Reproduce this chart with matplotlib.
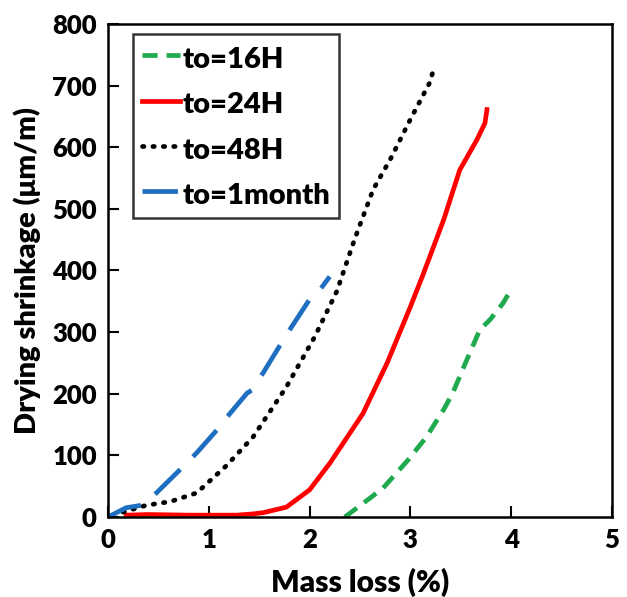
import matplotlib
matplotlib.use("Agg")
import matplotlib.pyplot as plt

# to=16H
x16 = [2.35, 2.53, 2.73, 2.98, 3.16, 3.33, 3.42, 3.56, 3.69, 3.79, 3.92, 4.01]
y16 = [0, 22, 47, 93, 130, 174, 201, 255, 304, 320, 347, 372]
# to=24H
x24 = [0.18, 0.4, 0.8, 1.28, 1.44, 1.54, 1.77, 2.0, 2.20, 2.53, 2.77, 3.0, 3.13, 3.33, 3.49, 3.66, 3.74, 3.76]
y24 = [3, 4, 3, 3, 5, 7, 16, 44, 87, 168, 250, 341, 395, 482, 563, 612, 639, 661]
# to=48H
x48 = [0.15, 0.38, 0.62, 0.88, 1.18, 1.44, 1.77, 2.05, 2.27, 2.45, 2.63, 2.80, 3.0, 3.19, 3.24]
y48 = [8, 19, 25, 39, 84, 130, 211, 292, 366, 452, 531, 580, 645, 704, 731]
# to=1month
x1m = [0.0, 0.18, 0.33, 0.48, 0.71, 0.88, 1.08, 1.18, 1.38, 1.43, 1.54, 1.72, 1.82, 2.04, 2.10, 2.20]
y1m = [0, 15, 19, 39, 76, 104, 141, 162, 201, 206, 234, 282, 308, 363, 368, 390]

plt.rcParams['font.family'] = ['Lato', 'DejaVu Sans']
plt.rcParams['font.weight'] = 'bold'

fig = plt.figure(figsize=(6.27, 5.97), dpi=100)
ax = fig.add_axes([0.1722, 0.134, 0.8038, 0.826])

ax.plot(x16, y16, color='#1faa4f', lw=3.4, linestyle=(0, (3.2, 1.9)), label='to=16H')
ax.plot(x24, y24, color='#ff0000', lw=3.4, linestyle='-', label='to=24H')
ax.plot(x48, y48, color='black', lw=3.4, linestyle=(0, (0.3, 1.9)), dash_capstyle='round', label='to=48H')
ax.plot(x1m, y1m, color='#1f6fc0', lw=3.4, linestyle=(0, (7.5, 3.8)), label='to=1month')

ax.set_xlim(0, 5)
ax.set_ylim(0, 800)
ax.set_xticks([0, 1, 2, 3, 4, 5])
ax.set_yticks(range(0, 801, 100))
ax.tick_params(direction='in', length=8, width=1.5, labelsize=18.5, pad=8)
for lab in ax.get_xticklabels() + ax.get_yticklabels():
    lab.set_fontweight('heavy')
for s in ax.spines.values():
    s.set_linewidth(1.8)

ax.set_xlabel('Mass loss (%)', fontsize=21.5, fontweight='heavy', labelpad=11.5)
ax.set_ylabel('Drying shrinkage (μm/m)', fontsize=21, fontweight='heavy', labelpad=8)

leg = ax.legend(loc='upper left', bbox_to_anchor=(0.05, 0.98), fontsize=21, frameon=True,
                fancybox=False, edgecolor='black', handlelength=1.3, handletextpad=0.1,
                handleheight=1.25, borderpad=0.3, labelspacing=0.5, borderaxespad=0)
leg.get_frame().set_linewidth(1.8)
for t in leg.get_texts():
    t.set_fontweight('heavy')

fig.savefig('out.png', dpi=100)
